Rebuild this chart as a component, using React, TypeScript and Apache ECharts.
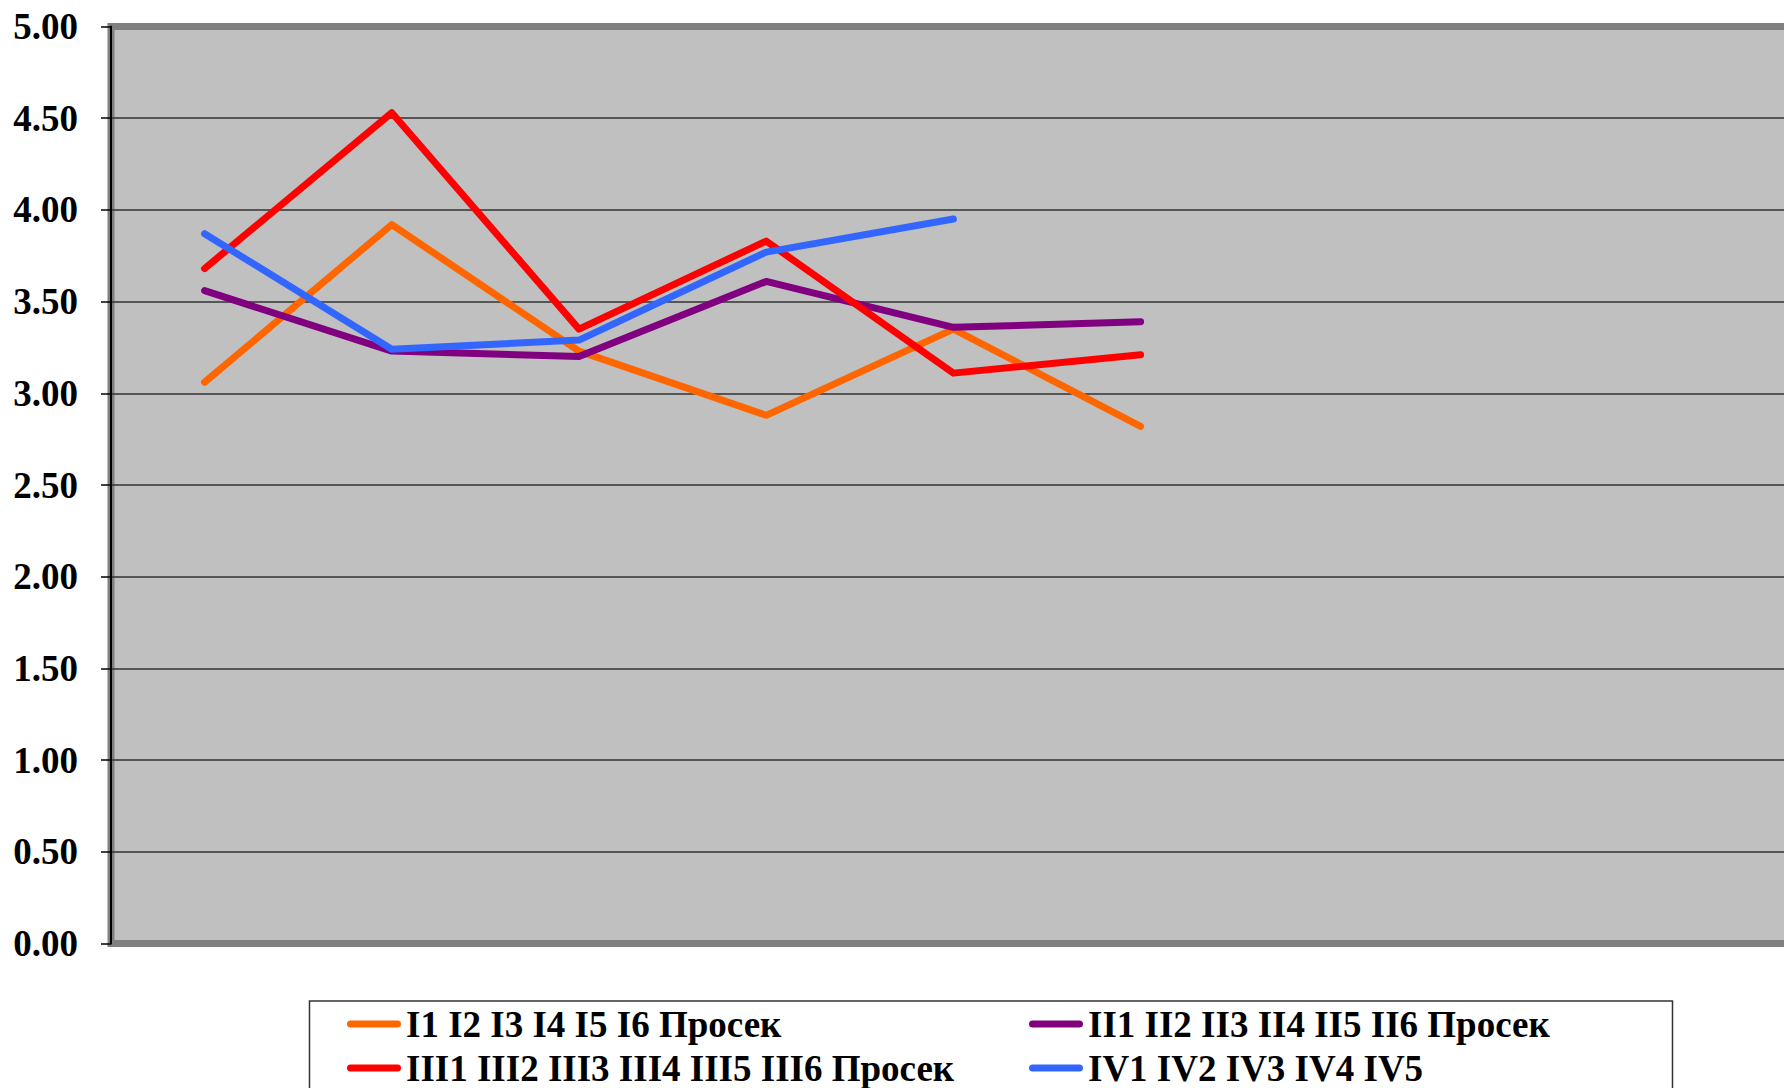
import React, { useEffect, useRef } from "react";
import * as echarts from "echarts";

const categories = ["1", "2", "3", "4", "5", "6", "7", "8", "9"];
const seriesNames = [
  "I1 I2 I3 I4 I5 I6 Просек",
  "II1 II2 II3 II4 II5 II6 Просек",
  "III1 III2 III3 III4 III5 III6 Просек",
  "IV1 IV2 IV3 IV4 IV5",
];
const seriesColors = ["#FF6600", "#800080", "#FF0000", "#3366FF"];
const valuesI = [3.06, 3.92, 3.23, 2.88, 3.35, 2.82];
const valuesII = [3.56, 3.23, 3.2, 3.61, 3.36, 3.39];
const valuesIII = [3.68, 4.53, 3.35, 3.83, 3.11, 3.21];
const valuesIV = [3.87, 3.24, 3.29, 3.77, 3.95];
const yTicks = [0, 5, 0.5];

const FONT = "'Liberation Serif', 'Times New Roman', serif";

export default function App() {
  const ref = useRef<HTMLDivElement>(null);
  useEffect(() => {
    if (!ref.current) return;
    const chart = echarts.init(ref.current, null, { renderer: "svg" });
    const allValues = [valuesI, valuesII, valuesIII, valuesIV];
    const icon = "path://M3.5,0 L50.5,0 A3.5,3.5 0 0 1 50.5,7 L3.5,7 A3.5,3.5 0 0 1 3.5,0 Z";
    const legendPos = [
      { left: 347, top: 1004 },
      { left: 1029, top: 1004 },
      { left: 347, top: 1048 },
      { left: 1029, top: 1048 },
    ];
    chart.setOption({
      animation: false,
      backgroundColor: "#ffffff",
      grid: {
        left: 111,
        top: 26.5,
        bottom: 144.5,
        width: 187.2 * categories.length,
        outerBoundsMode: "none",
        show: true,
        backgroundColor: "#C0C0C0",
        borderColor: "#808080",
        borderWidth: 7,
        containLabel: false,
      },
      xAxis: {
        type: "category",
        data: categories,
        boundaryGap: true,
        axisLine: { show: false },
        axisTick: { show: false },
        axisLabel: { show: false },
        splitLine: { show: false },
      },
      yAxis: {
        type: "value",
        min: yTicks[0],
        max: yTicks[1],
        interval: yTicks[2],
        axisLine: { show: true, lineStyle: { color: "#000", width: 2 } },
        axisTick: { show: true, inside: false, length: 10, lineStyle: { color: "#000", width: 1.5 } },
        axisLabel: {
          formatter: (v: number) => v.toFixed(2),
          fontFamily: FONT,
          fontWeight: "bold",
          fontSize: 37,
          color: "#000",
          margin: 33,
        },
        splitLine: {
          show: true,
          showMinLine: false,
          showMaxLine: false,
          lineStyle: { color: "#333", width: 1.5 },
        },
      },
      legend: seriesNames.map((name, i) => ({
        data: [name],
        left: legendPos[i].left,
        top: legendPos[i].top,
        padding: 0,
        itemWidth: 54,
        itemHeight: 7,
        icon,
        selectedMode: false,
        z: 10,
        textStyle: {
          fontFamily: FONT,
          fontWeight: "bold",
          fontSize: 37,
          color: "#000",
          lineHeight: 40,
        },
      })),
      graphic: [
        {
          type: "rect",
          z: 1,
          shape: { x: 309.5, y: 1001, width: 1363, height: 200 },
          style: { fill: "#ffffff", stroke: "#333", lineWidth: 1.5 },
        },
      ],
      series: seriesNames.map((name, i) => ({
        name,
        type: "line",
        data: allValues[i],
        showSymbol: false,
        symbol: "none",
        itemStyle: { color: seriesColors[i] },
        lineStyle: { color: seriesColors[i], width: 7, cap: "round", join: "round" },
      })),
    });
    return () => chart.dispose();
  }, []);
  return (
    <div
      ref={ref}
      style={{ position: "fixed", left: 0, top: 0, width: 1784, height: 1088 }}
    />
  );
}
